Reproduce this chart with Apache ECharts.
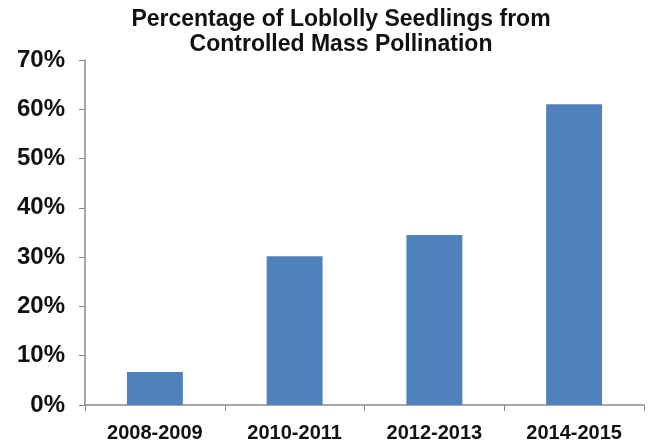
<!DOCTYPE html>
<html>
<head>
<meta charset="utf-8">
<script src="https://cdn.jsdelivr.net/npm/echarts@6/dist/echarts.min.js"></script>
<style>
  html, body { margin: 0; padding: 0; background: #fff; }
  #chart { width: 653px; height: 445px; }
</style>
</head>
<body>
<div id="chart"></div>
<script>
// values
const seasons = ['2008-2009', '2010-2011', '2012-2013', '2014-2015']
const cmpShare = [6.7, 30.2, 34.5, 61.0]
const yTicks = [0, 10, 20, 30, 40, 50, 60, 70]

const axisGrey = '#8a8a8a'
const labelFont = 'Liberation Sans, Arial, sans-serif'

let chart = echarts.init(document.getElementById('chart'))

let options = {
    animation: false,
    title: {
        text: 'Percentage of Loblolly Seedlings from\nControlled Mass Pollination',
        left: 336,
        textAlign: 'center',
        top: 2,
        textStyle: {
            color: '#111',
            fontFamily: labelFont,
            fontWeight: 'bold',
            fontSize: 23,
            lineHeight: 25
        }
    },
    grid: {
        left: 85,
        right: 9,
        top: 60,
        bottom: 40
    },
    xAxis: {
        type: 'category',
        data: seasons,
        axisLine: { lineStyle: { color: axisGrey, width: 1.5 } },
        axisTick: { show: true, length: 6, lineStyle: { color: axisGrey } },
        axisLabel: {
            color: '#111',
            fontFamily: labelFont,
            fontWeight: 'bold',
            fontSize: 20,
            margin: 18
        }
    },
    yAxis: {
        type: 'value',
        min: yTicks[0],
        max: yTicks[yTicks.length - 1],
        interval: 10,
        splitLine: { show: false },
        axisLine: { show: true, lineStyle: { color: axisGrey, width: 1.5 } },
        axisTick: { show: true, length: 6, lineStyle: { color: axisGrey } },
        axisLabel: {
            color: '#111',
            fontFamily: labelFont,
            fontWeight: 'bold',
            fontSize: 24,
            margin: 20,
            formatter: '{value}%'
        }
    },
    series: [
        {
            type: 'bar',
            data: cmpShare,
            barWidth: '40%',
            itemStyle: { color: '#4f81bd' }
        }
    ]
}

chart.setOption(options)
</script>
</body>
</html>
